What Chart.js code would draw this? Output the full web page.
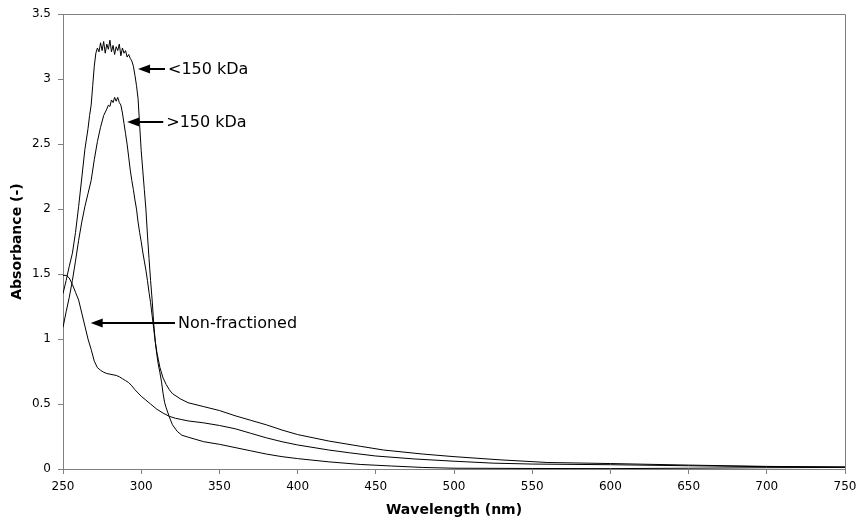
<!DOCTYPE html>
<html>
<head>
<meta charset="utf-8">
<script src="https://cdn.jsdelivr.net/npm/chart.js@4.4.1/dist/chart.umd.min.js"></script>
<style>
  body { margin: 0; background: #fff; }
  #wrap { width: 863px; height: 522px; }
</style>
</head>
<body>
<div id="wrap"><canvas id="myChart" width="863" height="522"></canvas></div>
<script>
// <150 kDa fraction
const wlLt = [250,252,254,256,258,260,262,264,266,267,268,269,270,271,272,273,274,275,276,277,278,279,280,281,282,283,284,285,286,287,288,289,290,291,292,293,294,295,296,297,298,299,300,301,302,303,304,305,306,307,308,309,310,311,312,313,314,315,316,318,320,323,326,330,340,350,360,370,380,390,400,420,440,460,480,500,550,600,650,700,750];
const absLt = [1.35,1.45,1.56,1.66,1.82,2.02,2.24,2.46,2.62,2.72,2.8,2.95,3.1,3.2,3.24,3.21,3.28,3.22,3.29,3.2,3.27,3.23,3.3,3.21,3.26,3.19,3.25,3.22,3.27,3.18,3.24,3.2,3.22,3.17,3.19,3.16,3.14,3.1,3.03,2.95,2.85,2.65,2.45,2.3,2.15,2.0,1.8,1.62,1.45,1.3,1.12,0.98,0.88,0.8,0.74,0.67,0.58,0.51,0.47,0.4,0.34,0.29,0.26,0.245,0.21,0.19,0.165,0.14,0.115,0.095,0.08,0.055,0.035,0.023,0.012,0.006,0.004,0.003,0.006,0.01,0.012];

// >150 kDa fraction
const wlGt = [250,252,254,256,258,260,262,264,266,268,270,272,274,276,278,279,280,281,282,283,284,285,286,287,288,289,290,291,292,293,294,295,296,297,298,299,300,301,302,303,304,305,306,307,308,309,310,311,312,314,316,318,320,325,330,340,350,360,370,380,390,400,420,440,455,480,500,530,560,600,650,700,750];
const absGt = [1.09,1.21,1.32,1.45,1.6,1.76,1.9,2.02,2.12,2.22,2.38,2.52,2.63,2.72,2.77,2.8,2.79,2.84,2.82,2.86,2.83,2.86,2.82,2.8,2.74,2.66,2.58,2.5,2.4,2.3,2.22,2.15,2.07,2.0,1.9,1.82,1.75,1.67,1.6,1.53,1.45,1.36,1.28,1.18,1.08,0.98,0.9,0.84,0.78,0.7,0.65,0.61,0.58,0.54,0.51,0.48,0.45,0.41,0.375,0.34,0.3,0.265,0.215,0.175,0.146,0.115,0.095,0.07,0.05,0.042,0.03,0.02,0.015];

// non-fractioned sample
const wlNf = [250,252,254,256,258,260,262,264,266,268,270,272,274,276,278,280,282,284,286,288,290,292,294,296,298,300,303,306,310,314,318,322,326,330,340,350,360,370,380,390,400,420,433,450,475,500,525,550,600,650,700,750];
const absNf = [1.49,1.49,1.47,1.42,1.36,1.3,1.2,1.1,1.0,0.92,0.83,0.78,0.76,0.745,0.735,0.73,0.725,0.72,0.71,0.695,0.68,0.665,0.64,0.61,0.585,0.56,0.53,0.5,0.46,0.43,0.405,0.39,0.38,0.37,0.355,0.335,0.31,0.275,0.24,0.21,0.185,0.146,0.125,0.1,0.077,0.06,0.045,0.038,0.033,0.025,0.018,0.015];

const seriesNames = ['<150 kDa', '>150 kDa', 'Non-fractioned'];

// tick values
const xTicks = [250,300,350,400,450,500,550,600,650,700,750];
const yTicks = [0,0.5,1,1.5,2,2.5,3,3.5];
const yTickLabels = ['0','0.5','1','1.5','2','2.5','3','3.5'];

// arrow labels (tip and tail in data units)
const noteText = ['<150 kDa', '>150 kDa', 'Non-fractioned'];
const noteTipX = [298, 291, 267.7];
const noteTipY = [3.075, 2.673, 1.126];
const noteTailX = [315.2, 314.1, 321.6];

const toPoints = (xs, ys) => xs.map((v, i) => ({ x: v, y: ys[i] }));

const font = 'DejaVu Sans';

// draw top/right frame plus the arrows with labels
const notesPlugin = {
  id: 'notes',
  afterDatasetsDraw(chart) {
    const { ctx, chartArea, scales: { x, y } } = chart;
    ctx.save();
    ctx.strokeStyle = '#808080';
    ctx.lineWidth = 1;
    ctx.beginPath();
    ctx.moveTo(chartArea.left, Math.round(chartArea.top) + 0.5);
    ctx.lineTo(Math.round(chartArea.right) + 0.5, Math.round(chartArea.top) + 0.5);
    ctx.lineTo(Math.round(chartArea.right) + 0.5, chartArea.bottom);
    ctx.stroke();

    ctx.fillStyle = '#000';
    ctx.strokeStyle = '#000';
    ctx.font = '16px "' + font + '"';
    ctx.textBaseline = 'middle';
    for (let i = 0; i < noteText.length; i++) {
      const tx = x.getPixelForValue(noteTipX[i]);
      const ty = Math.round(y.getPixelForValue(noteTipY[i]));
      const ex = x.getPixelForValue(noteTailX[i]);
      ctx.lineWidth = 2;
      ctx.beginPath();
      ctx.moveTo(tx + 8, ty);
      ctx.lineTo(ex, ty);
      ctx.stroke();
      ctx.beginPath();
      ctx.moveTo(tx, ty);
      ctx.lineTo(tx + 12, ty - 4.5);
      ctx.lineTo(tx + 12, ty + 4.5);
      ctx.closePath();
      ctx.fill();
      ctx.fillText(noteText[i], ex + 3, ty + 1);
    }
    ctx.restore();
  }
};

const lineStyle = { borderColor: '#000', borderWidth: 1, pointRadius: 0, showLine: true, tension: 0, fill: false };

const ctx = document.getElementById('myChart').getContext('2d');
const myChart = new Chart(ctx, {
  type: 'scatter',
  data: {
    datasets: [
      { label: seriesNames[0], data: toPoints(wlLt, absLt), ...lineStyle },
      { label: seriesNames[1], data: toPoints(wlGt, absGt), ...lineStyle },
      { label: seriesNames[2], data: toPoints(wlNf, absNf), ...lineStyle }
    ]
  },
  options: {
    responsive: false,
    animation: false,
    layout: { padding: { left: 0, right: 18, top: 13, bottom: 0 } },
    plugins: {
      legend: { display: false },
      tooltip: { enabled: false }
    },
    scales: {
      x: {
        type: 'linear',
        min: 250,
        max: 750,
        afterBuildTicks: s => { s.ticks = xTicks.map(v => ({ value: v })); },
        afterFit: s => { s.height = 53; },
        border: { color: '#808080', width: 1 },
        grid: { drawOnChartArea: false, tickLength: 5, color: '#808080' },
        ticks: { color: '#000', font: { family: font, size: 12 }, padding: 6, maxRotation: 0, autoSkip: false },
        title: {
          display: true, text: 'Wavelength (nm)', color: '#000',
          font: { family: font, size: 14, weight: 'bold' },
          padding: { top: 0, bottom: 3 }
        }
      },
      y: {
        type: 'linear',
        min: 0,
        max: 3.5,
        afterBuildTicks: s => { s.ticks = yTicks.map(v => ({ value: v })); },
        afterFit: s => { s.width = 63; },
        border: { color: '#808080', width: 1 },
        grid: { drawOnChartArea: false, tickLength: 5, color: '#808080' },
        ticks: {
          color: '#000', font: { family: font, size: 12 }, padding: 7,
          callback: (v, i) => yTickLabels[i]
        },
        title: {
          display: true, text: 'Absorbance (-)', color: '#000',
          font: { family: font, size: 14, weight: 'bold' },
          padding: { top: 9, bottom: 0 }
        }
      }
    }
  },
  plugins: [notesPlugin]
});
</script>
</body>
</html>
